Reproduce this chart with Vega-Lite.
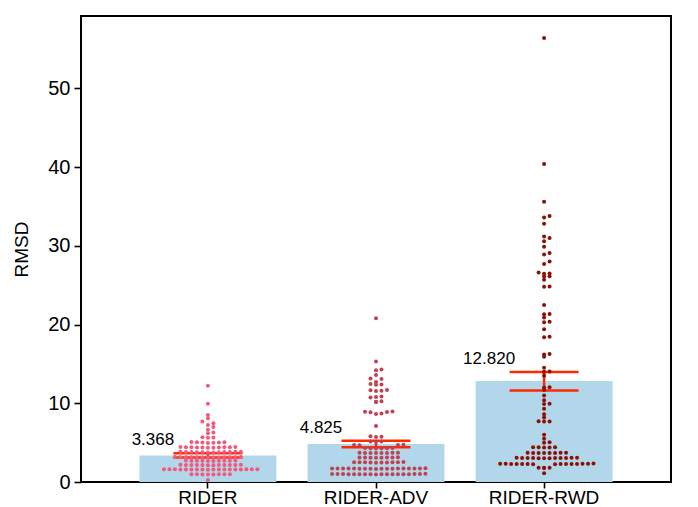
{
  "$schema": "https://vega.github.io/schema/vega-lite/v6.json",
  "width": 590,
  "height": 466,
  "autosize": {"type": "none"},
  "padding": {"left": 81, "top": 16, "right": 27, "bottom": 25},
  "config": {
    "view": {"stroke": "black", "strokeWidth": 2},
    "font": "Liberation Sans",
    "axis": {
      "domain": false,
      "grid": false,
      "tickColor": "black",
      "tickWidth": 1.6,
      "tickSize": 7,
      "labelColor": "black",
      "labelFontSize": 20,
      "labelPadding": 4,
      "titleFontSize": 19,
      "titleFontWeight": "normal",
      "titleColor": "black"
    }
  },
  "datasets": {
    "summary": [
      {"model": "RIDER", "mean": 3.368, "lo": 3.12, "hi": 3.64},
      {"model": "RIDER-ADV", "mean": 4.825, "lo": 4.4, "hi": 5.25},
      {"model": "RIDER-RWD", "mean": 12.82, "lo": 11.62, "hi": 13.98}
    ],
    "points": [
      {"model": "RIDER", "rmsd": 12.24}, {"model": "RIDER", "rmsd": 9.95}, {"model": "RIDER", "rmsd": 8.5}, {"model": "RIDER", "rmsd": 8.09},
      {"model": "RIDER", "rmsd": 7.7}, {"model": "RIDER", "rmsd": 7.45}, {"model": "RIDER", "rmsd": 7.25}, {"model": "RIDER", "rmsd": 7.0},
      {"model": "RIDER", "rmsd": 6.65}, {"model": "RIDER", "rmsd": 6.2}, {"model": "RIDER", "rmsd": 6.3},
      {"model": "RIDER", "rmsd": 5.62}, {"model": "RIDER", "rmsd": 5.66}, {"model": "RIDER", "rmsd": 5.7},
      {"model": "RIDER", "rmsd": 5.0}, {"model": "RIDER", "rmsd": 5.05}, {"model": "RIDER", "rmsd": 5.08}, {"model": "RIDER", "rmsd": 4.95}, {"model": "RIDER", "rmsd": 5.01}, {"model": "RIDER", "rmsd": 5.06}, {"model": "RIDER", "rmsd": 5.02},
      {"model": "RIDER", "rmsd": 4.35}, {"model": "RIDER", "rmsd": 4.4}, {"model": "RIDER", "rmsd": 4.45}, {"model": "RIDER", "rmsd": 4.38}, {"model": "RIDER", "rmsd": 4.42}, {"model": "RIDER", "rmsd": 4.41}, {"model": "RIDER", "rmsd": 4.36}, {"model": "RIDER", "rmsd": 4.44}, {"model": "RIDER", "rmsd": 4.39}, {"model": "RIDER", "rmsd": 4.37}, {"model": "RIDER", "rmsd": 4.43},
      {"model": "RIDER", "rmsd": 3.75}, {"model": "RIDER", "rmsd": 3.8}, {"model": "RIDER", "rmsd": 3.85}, {"model": "RIDER", "rmsd": 3.78}, {"model": "RIDER", "rmsd": 3.82}, {"model": "RIDER", "rmsd": 3.79}, {"model": "RIDER", "rmsd": 3.77}, {"model": "RIDER", "rmsd": 3.83}, {"model": "RIDER", "rmsd": 3.81}, {"model": "RIDER", "rmsd": 3.8}, {"model": "RIDER", "rmsd": 3.76}, {"model": "RIDER", "rmsd": 3.84},
      {"model": "RIDER", "rmsd": 3.1}, {"model": "RIDER", "rmsd": 3.14}, {"model": "RIDER", "rmsd": 3.18}, {"model": "RIDER", "rmsd": 3.12}, {"model": "RIDER", "rmsd": 3.16}, {"model": "RIDER", "rmsd": 3.15}, {"model": "RIDER", "rmsd": 3.11}, {"model": "RIDER", "rmsd": 3.17}, {"model": "RIDER", "rmsd": 3.13}, {"model": "RIDER", "rmsd": 3.15}, {"model": "RIDER", "rmsd": 3.12}, {"model": "RIDER", "rmsd": 3.16}, {"model": "RIDER", "rmsd": 3.14},
      {"model": "RIDER", "rmsd": 2.7}, {"model": "RIDER", "rmsd": 2.68}, {"model": "RIDER", "rmsd": 2.72}, {"model": "RIDER", "rmsd": 2.69}, {"model": "RIDER", "rmsd": 2.71}, {"model": "RIDER", "rmsd": 2.7}, {"model": "RIDER", "rmsd": 2.67}, {"model": "RIDER", "rmsd": 2.73}, {"model": "RIDER", "rmsd": 2.7}, {"model": "RIDER", "rmsd": 2.69},
      {"model": "RIDER", "rmsd": 2.16}, {"model": "RIDER", "rmsd": 2.14}, {"model": "RIDER", "rmsd": 2.18}, {"model": "RIDER", "rmsd": 2.15}, {"model": "RIDER", "rmsd": 2.17}, {"model": "RIDER", "rmsd": 2.16}, {"model": "RIDER", "rmsd": 2.13}, {"model": "RIDER", "rmsd": 2.19}, {"model": "RIDER", "rmsd": 2.16}, {"model": "RIDER", "rmsd": 2.15}, {"model": "RIDER", "rmsd": 2.17}, {"model": "RIDER", "rmsd": 2.16},
      {"model": "RIDER", "rmsd": 1.58}, {"model": "RIDER", "rmsd": 1.6}, {"model": "RIDER", "rmsd": 1.62}, {"model": "RIDER", "rmsd": 1.59}, {"model": "RIDER", "rmsd": 1.61}, {"model": "RIDER", "rmsd": 1.6}, {"model": "RIDER", "rmsd": 1.57}, {"model": "RIDER", "rmsd": 1.63}, {"model": "RIDER", "rmsd": 1.6}, {"model": "RIDER", "rmsd": 1.58}, {"model": "RIDER", "rmsd": 1.62}, {"model": "RIDER", "rmsd": 1.61}, {"model": "RIDER", "rmsd": 1.59}, {"model": "RIDER", "rmsd": 1.6}, {"model": "RIDER", "rmsd": 1.6}, {"model": "RIDER", "rmsd": 1.58}, {"model": "RIDER", "rmsd": 1.62}, {"model": "RIDER", "rmsd": 1.6},
      {"model": "RIDER", "rmsd": 0.95}, {"model": "RIDER", "rmsd": 0.97}, {"model": "RIDER", "rmsd": 0.99}, {"model": "RIDER", "rmsd": 0.96}, {"model": "RIDER", "rmsd": 0.98}, {"model": "RIDER", "rmsd": 0.97}, {"model": "RIDER", "rmsd": 0.95}, {"model": "RIDER", "rmsd": 0.99},
      {"model": "RIDER", "rmsd": 0.25},

      {"model": "RIDER-ADV", "rmsd": 20.8}, {"model": "RIDER-ADV", "rmsd": 15.3}, {"model": "RIDER-ADV", "rmsd": 14.2}, {"model": "RIDER-ADV", "rmsd": 14.3}, {"model": "RIDER-ADV", "rmsd": 13.6},
      {"model": "RIDER-ADV", "rmsd": 13.1}, {"model": "RIDER-ADV", "rmsd": 13.15}, {"model": "RIDER-ADV", "rmsd": 12.7}, {"model": "RIDER-ADV", "rmsd": 12.4}, {"model": "RIDER-ADV", "rmsd": 12.45}, {"model": "RIDER-ADV", "rmsd": 12.35},
      {"model": "RIDER-ADV", "rmsd": 11.6}, {"model": "RIDER-ADV", "rmsd": 11.65}, {"model": "RIDER-ADV", "rmsd": 11.55}, {"model": "RIDER-ADV", "rmsd": 11.7},
      {"model": "RIDER-ADV", "rmsd": 10.8}, {"model": "RIDER-ADV", "rmsd": 10.85}, {"model": "RIDER-ADV", "rmsd": 10.75}, {"model": "RIDER-ADV", "rmsd": 10.2}, {"model": "RIDER-ADV", "rmsd": 10.25}, {"model": "RIDER-ADV", "rmsd": 10.15},
      {"model": "RIDER-ADV", "rmsd": 8.9}, {"model": "RIDER-ADV", "rmsd": 8.95}, {"model": "RIDER-ADV", "rmsd": 8.85}, {"model": "RIDER-ADV", "rmsd": 8.92}, {"model": "RIDER-ADV", "rmsd": 8.65}, {"model": "RIDER-ADV", "rmsd": 8.7}, {"model": "RIDER-ADV", "rmsd": 7.1},
      {"model": "RIDER-ADV", "rmsd": 5.76}, {"model": "RIDER-ADV", "rmsd": 5.8}, {"model": "RIDER-ADV", "rmsd": 5.72},
      {"model": "RIDER-ADV", "rmsd": 5.13}, {"model": "RIDER-ADV", "rmsd": 5.1}, {"model": "RIDER-ADV", "rmsd": 5.16},
      {"model": "RIDER-ADV", "rmsd": 4.7}, {"model": "RIDER-ADV", "rmsd": 4.72}, {"model": "RIDER-ADV", "rmsd": 4.68}, {"model": "RIDER-ADV", "rmsd": 4.7},
      {"model": "RIDER-ADV", "rmsd": 4.3}, {"model": "RIDER-ADV", "rmsd": 4.28}, {"model": "RIDER-ADV", "rmsd": 4.32}, {"model": "RIDER-ADV", "rmsd": 4.3}, {"model": "RIDER-ADV", "rmsd": 4.27}, {"model": "RIDER-ADV", "rmsd": 4.33},
      {"model": "RIDER-ADV", "rmsd": 3.7}, {"model": "RIDER-ADV", "rmsd": 3.68}, {"model": "RIDER-ADV", "rmsd": 3.72}, {"model": "RIDER-ADV", "rmsd": 3.7}, {"model": "RIDER-ADV", "rmsd": 3.69}, {"model": "RIDER-ADV", "rmsd": 3.71}, {"model": "RIDER-ADV", "rmsd": 3.67}, {"model": "RIDER-ADV", "rmsd": 3.73},
      {"model": "RIDER-ADV", "rmsd": 3.1}, {"model": "RIDER-ADV", "rmsd": 3.08}, {"model": "RIDER-ADV", "rmsd": 3.12}, {"model": "RIDER-ADV", "rmsd": 3.1}, {"model": "RIDER-ADV", "rmsd": 3.09}, {"model": "RIDER-ADV", "rmsd": 3.11}, {"model": "RIDER-ADV", "rmsd": 3.07}, {"model": "RIDER-ADV", "rmsd": 3.13},
      {"model": "RIDER-ADV", "rmsd": 2.5}, {"model": "RIDER-ADV", "rmsd": 2.48}, {"model": "RIDER-ADV", "rmsd": 2.52}, {"model": "RIDER-ADV", "rmsd": 2.5}, {"model": "RIDER-ADV", "rmsd": 2.47}, {"model": "RIDER-ADV", "rmsd": 2.53}, {"model": "RIDER-ADV", "rmsd": 2.49}, {"model": "RIDER-ADV", "rmsd": 2.51}, {"model": "RIDER-ADV", "rmsd": 2.5}, {"model": "RIDER-ADV", "rmsd": 2.46},
      {"model": "RIDER-ADV", "rmsd": 1.7}, {"model": "RIDER-ADV", "rmsd": 1.68}, {"model": "RIDER-ADV", "rmsd": 1.72}, {"model": "RIDER-ADV", "rmsd": 1.7}, {"model": "RIDER-ADV", "rmsd": 1.69}, {"model": "RIDER-ADV", "rmsd": 1.71}, {"model": "RIDER-ADV", "rmsd": 1.67}, {"model": "RIDER-ADV", "rmsd": 1.73}, {"model": "RIDER-ADV", "rmsd": 1.7}, {"model": "RIDER-ADV", "rmsd": 1.66},
      {"model": "RIDER-ADV", "rmsd": 1.74}, {"model": "RIDER-ADV", "rmsd": 1.7}, {"model": "RIDER-ADV", "rmsd": 1.68}, {"model": "RIDER-ADV", "rmsd": 1.72}, {"model": "RIDER-ADV", "rmsd": 1.69}, {"model": "RIDER-ADV", "rmsd": 1.71}, {"model": "RIDER-ADV", "rmsd": 1.7}, {"model": "RIDER-ADV", "rmsd": 1.67},
      {"model": "RIDER-ADV", "rmsd": 1.0}, {"model": "RIDER-ADV", "rmsd": 0.98}, {"model": "RIDER-ADV", "rmsd": 1.02}, {"model": "RIDER-ADV", "rmsd": 1.0}, {"model": "RIDER-ADV", "rmsd": 0.99}, {"model": "RIDER-ADV", "rmsd": 1.01}, {"model": "RIDER-ADV", "rmsd": 0.97}, {"model": "RIDER-ADV", "rmsd": 1.03}, {"model": "RIDER-ADV", "rmsd": 1.0}, {"model": "RIDER-ADV", "rmsd": 0.96},
      {"model": "RIDER-ADV", "rmsd": 1.04}, {"model": "RIDER-ADV", "rmsd": 1.0}, {"model": "RIDER-ADV", "rmsd": 0.98}, {"model": "RIDER-ADV", "rmsd": 1.02}, {"model": "RIDER-ADV", "rmsd": 0.99}, {"model": "RIDER-ADV", "rmsd": 1.01}, {"model": "RIDER-ADV", "rmsd": 1.0}, {"model": "RIDER-ADV", "rmsd": 0.97},

      {"model": "RIDER-RWD", "rmsd": 56.4}, {"model": "RIDER-RWD", "rmsd": 40.4}, {"model": "RIDER-RWD", "rmsd": 35.6}, {"model": "RIDER-RWD", "rmsd": 33.6}, {"model": "RIDER-RWD", "rmsd": 33.8},
      {"model": "RIDER-RWD", "rmsd": 32.8}, {"model": "RIDER-RWD", "rmsd": 31.0}, {"model": "RIDER-RWD", "rmsd": 31.2}, {"model": "RIDER-RWD", "rmsd": 30.6}, {"model": "RIDER-RWD", "rmsd": 29.9},
      {"model": "RIDER-RWD", "rmsd": 28.9}, {"model": "RIDER-RWD", "rmsd": 29.1}, {"model": "RIDER-RWD", "rmsd": 28.0}, {"model": "RIDER-RWD", "rmsd": 27.7}, {"model": "RIDER-RWD", "rmsd": 26.5},
      {"model": "RIDER-RWD", "rmsd": 26.45}, {"model": "RIDER-RWD", "rmsd": 26.6}, {"model": "RIDER-RWD", "rmsd": 26.1}, {"model": "RIDER-RWD", "rmsd": 26.15}, {"model": "RIDER-RWD", "rmsd": 25.7},
      {"model": "RIDER-RWD", "rmsd": 24.8}, {"model": "RIDER-RWD", "rmsd": 24.85}, {"model": "RIDER-RWD", "rmsd": 22.5}, {"model": "RIDER-RWD", "rmsd": 21.3}, {"model": "RIDER-RWD", "rmsd": 21.35},
      {"model": "RIDER-RWD", "rmsd": 20.9}, {"model": "RIDER-RWD", "rmsd": 20.3}, {"model": "RIDER-RWD", "rmsd": 20.35}, {"model": "RIDER-RWD", "rmsd": 19.4}, {"model": "RIDER-RWD", "rmsd": 18.4},
      {"model": "RIDER-RWD", "rmsd": 18.45}, {"model": "RIDER-RWD", "rmsd": 16.2}, {"model": "RIDER-RWD", "rmsd": 16.25}, {"model": "RIDER-RWD", "rmsd": 15.9}, {"model": "RIDER-RWD", "rmsd": 14.5},
      {"model": "RIDER-RWD", "rmsd": 14.0}, {"model": "RIDER-RWD", "rmsd": 14.05}, {"model": "RIDER-RWD", "rmsd": 13.5}, {"model": "RIDER-RWD", "rmsd": 12.0}, {"model": "RIDER-RWD", "rmsd": 12.05},
      {"model": "RIDER-RWD", "rmsd": 11.7}, {"model": "RIDER-RWD", "rmsd": 11.0}, {"model": "RIDER-RWD", "rmsd": 10.4}, {"model": "RIDER-RWD", "rmsd": 9.9}, {"model": "RIDER-RWD", "rmsd": 9.95},
      {"model": "RIDER-RWD", "rmsd": 9.3}, {"model": "RIDER-RWD", "rmsd": 8.6}, {"model": "RIDER-RWD", "rmsd": 8.2}, {"model": "RIDER-RWD", "rmsd": 7.7}, {"model": "RIDER-RWD", "rmsd": 7.72},
      {"model": "RIDER-RWD", "rmsd": 7.68}, {"model": "RIDER-RWD", "rmsd": 6.0}, {"model": "RIDER-RWD", "rmsd": 5.5}, {"model": "RIDER-RWD", "rmsd": 5.0}, {"model": "RIDER-RWD", "rmsd": 5.05},
      {"model": "RIDER-RWD", "rmsd": 4.4}, {"model": "RIDER-RWD", "rmsd": 4.42}, {"model": "RIDER-RWD", "rmsd": 4.38}, {"model": "RIDER-RWD", "rmsd": 4.41}, {"model": "RIDER-RWD", "rmsd": 4.39},
      {"model": "RIDER-RWD", "rmsd": 3.7}, {"model": "RIDER-RWD", "rmsd": 3.68}, {"model": "RIDER-RWD", "rmsd": 3.72}, {"model": "RIDER-RWD", "rmsd": 3.7}, {"model": "RIDER-RWD", "rmsd": 3.69}, {"model": "RIDER-RWD", "rmsd": 3.71}, {"model": "RIDER-RWD", "rmsd": 3.67}, {"model": "RIDER-RWD", "rmsd": 3.73},
      {"model": "RIDER-RWD", "rmsd": 3.05}, {"model": "RIDER-RWD", "rmsd": 3.03}, {"model": "RIDER-RWD", "rmsd": 3.07}, {"model": "RIDER-RWD", "rmsd": 3.05}, {"model": "RIDER-RWD", "rmsd": 3.04}, {"model": "RIDER-RWD", "rmsd": 3.06}, {"model": "RIDER-RWD", "rmsd": 3.02}, {"model": "RIDER-RWD", "rmsd": 3.08}, {"model": "RIDER-RWD", "rmsd": 3.05}, {"model": "RIDER-RWD", "rmsd": 3.01}, {"model": "RIDER-RWD", "rmsd": 3.09}, {"model": "RIDER-RWD", "rmsd": 3.05},
      {"model": "RIDER-RWD", "rmsd": 2.3}, {"model": "RIDER-RWD", "rmsd": 2.28}, {"model": "RIDER-RWD", "rmsd": 2.32}, {"model": "RIDER-RWD", "rmsd": 2.3}, {"model": "RIDER-RWD", "rmsd": 2.29}, {"model": "RIDER-RWD", "rmsd": 2.31}, {"model": "RIDER-RWD", "rmsd": 2.27}, {"model": "RIDER-RWD", "rmsd": 2.33}, {"model": "RIDER-RWD", "rmsd": 2.3}, {"model": "RIDER-RWD", "rmsd": 2.26}, {"model": "RIDER-RWD", "rmsd": 2.34}, {"model": "RIDER-RWD", "rmsd": 2.3}, {"model": "RIDER-RWD", "rmsd": 2.28}, {"model": "RIDER-RWD", "rmsd": 2.32}, {"model": "RIDER-RWD", "rmsd": 2.3},
      {"model": "RIDER-RWD", "rmsd": 1.8}, {"model": "RIDER-RWD", "rmsd": 1.78}, {"model": "RIDER-RWD", "rmsd": 1.82}, {"model": "RIDER-RWD", "rmsd": 1.8},
      {"model": "RIDER-RWD", "rmsd": 1.1}
    ]
  },
  "encoding": {
    "x": {
      "field": "model",
      "type": "nominal",
      "sort": ["RIDER", "RIDER-ADV", "RIDER-RWD"],
      "scale": {"paddingInner": 0.19, "paddingOuter": 0.35},
      "axis": {"title": null, "labelAngle": 0, "labelPadding": 0, "tickSize": 6, "labelFontSize": 19}
    }
  },
  "layer": [
    {
      "data": {"name": "summary"},
      "mark": {"type": "bar", "color": "#b3d7ea", "width": 137},
      "encoding": {
        "y": {
          "field": "mean",
          "type": "quantitative",
          "scale": {"domain": [0, 59.2], "nice": false},
          "axis": {"values": [0, 10, 20, 30, 40, 50], "title": "RMSD", "titlePadding": 16}
        }
      }
    },
    {
      "data": {"name": "summary"},
      "mark": {"type": "rule", "color": "#ff2a00", "strokeWidth": 2.5},
      "encoding": {
        "y": {"field": "lo", "type": "quantitative"},
        "y2": {"field": "hi"}
      }
    },
    {
      "data": {"name": "summary"},
      "transform": [{"fold": ["lo", "hi"], "as": ["end", "val"]}],
      "mark": {"type": "tick", "color": "#ff2a00", "size": 69, "thickness": 2.5, "opacity": 1},
      "encoding": {
        "y": {"field": "val", "type": "quantitative"}
      }
    },
    {
      "data": {"name": "points"},
      "transform": [
        {"calculate": "floor(datum.rmsd / 0.6)", "as": "row"},
        {"window": [{"op": "row_number", "as": "rn"}], "groupby": ["model", "row"], "sort": [{"field": "rmsd"}]},
        {"calculate": "datum.rn % 2 == 0 ? floor(datum.rn / 2) : -floor(datum.rn / 2)", "as": "off"}
      ],
      "mark": {"type": "circle", "size": 16, "opacity": 1},
      "encoding": {
        "y": {"field": "rmsd", "type": "quantitative"},
        "xOffset": {"field": "off", "type": "quantitative", "scale": {"domain": [-12.4, 12.4]}},
        "color": {
          "field": "model",
          "type": "nominal",
          "scale": {"domain": ["RIDER", "RIDER-ADV", "RIDER-RWD"], "range": ["#f4587a", "#c2414f", "#8e1004"]},
          "legend": null
        }
      }
    },
    {
      "data": {"name": "summary"},
      "mark": {"type": "text", "dx": -55, "dy": -4, "baseline": "bottom", "fontSize": 17, "color": "black"},
      "encoding": {
        "y": {"field": "hi", "type": "quantitative"},
        "text": {"field": "mean", "type": "quantitative", "format": ".3f"}
      }
    }
  ]
}
